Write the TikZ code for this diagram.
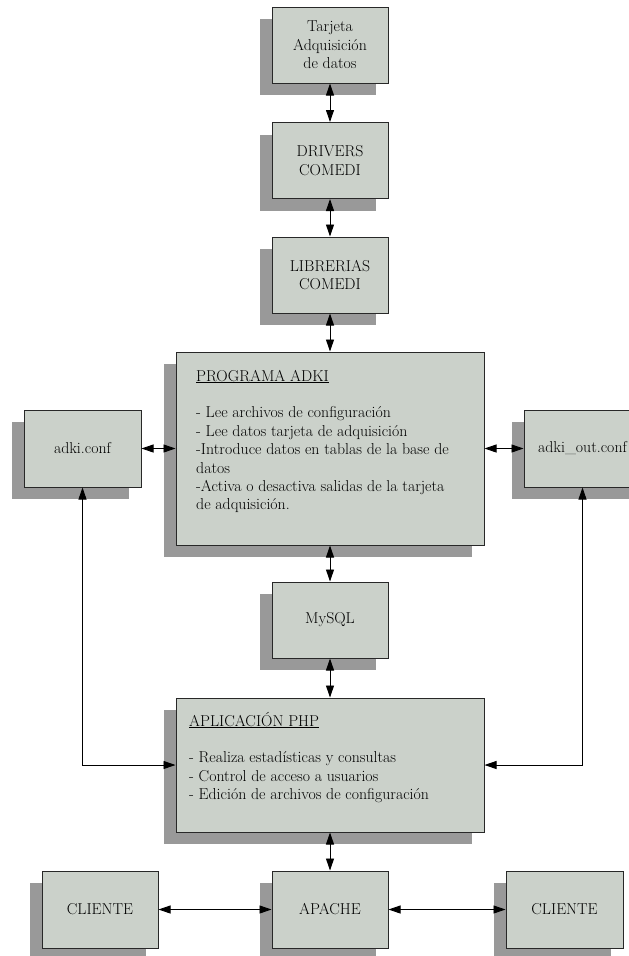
\documentclass[tikz,border=0pt]{standalone}
\usetikzlibrary{arrows.meta,calc,shadows}
\definecolor{boxfill}{RGB}{203,209,202}
\definecolor{shadowgray}{RGB}{153,153,153}
\definecolor{boxline}{RGB}{40,40,40}
\newcommand{\boxfont}{\fontsize{15.8}{18.4}\selectfont}
\begin{document}
\begin{tikzpicture}[x=1pt,y=-1pt,
  sbox/.style={draw=boxline, fill=boxfill, line width=1pt, align=center, inner sep=0pt,
    font=\boxfont,
    drop shadow={shadow xshift=-12pt, shadow yshift=-12pt, fill=shadowgray, opacity=1, draw=none}},
  smallbox/.style={sbox, minimum width=116pt, minimum height=76pt},
  bigtext/.style={anchor=base west, inner sep=0pt, font=\boxfont},
  conn/.style={line width=0.9pt, {Triangle[length=12pt,width=8pt]}-{Triangle[length=12pt,width=8pt]}}
  ]
\useasboundingbox (0,0) rectangle (629,956);
\clip (0,0) rectangle (629,956);
\fill[white] (0,0) rectangle (629,956);

\node[smallbox] (tarjeta) at (330,45) {Tarjeta\\Adquisición\\de datos};
\node[smallbox] (drivers) at (330,160.5) {DRIVERS\\COMEDI};
\node[smallbox] (librerias) at (330,275) {LIBRERIAS\\COMEDI};
\node[sbox, minimum width=308pt, minimum height=193pt] (prog) at (330,448.5) {};
\node[bigtext] (progtxt) at (196,381) {\parbox[t]{285pt}{\boxfont\raggedright
  \underline{PROGRAMA ADKI}\\
  \mbox{}\\
  - Lee archivos de configuración\\
  - Lee datos tarjeta de adquisición\\
  -Introduce datos en tablas de la base de\\
  datos\\
  -Activa o desactiva salidas de la tarjeta\\
  de adquisición.}};
\node[sbox, minimum width=117pt, minimum height=77pt] (adkiconf) at (82.5,448.5) {adki.conf};
\node[sbox, minimum width=117pt, minimum height=77pt] (adkiout) at (582.5,448.5) {adki\_out.conf};
\node[smallbox] (mysql) at (330,620) {MySQL};
\node[sbox, minimum width=308pt, minimum height=134pt] (php) at (330,765) {};
\node[bigtext] (phptxt) at (189,726) {\parbox[t]{285pt}{\boxfont\raggedright
  \underline{APLICACIÓN PHP}\\
  \mbox{}\\
  - Realiza estadísticas y consultas\\
  - Control de acceso a usuarios\\
  - Edición de archivos de configuración}};
\node[sbox, minimum width=116pt, minimum height=77pt] (clientl) at (100,909.5) {CLIENTE};
\node[sbox, minimum width=116pt, minimum height=77pt] (apache) at (330,909.5) {APACHE};
\node[sbox, minimum width=117pt, minimum height=77pt] (clientr) at (564.5,909.5) {CLIENTE};

\draw[conn] (tarjeta) -- (drivers);
\draw[conn] (drivers) -- (librerias);
\draw[conn] (librerias) -- (prog);
\draw[conn] (prog) -- (mysql);
\draw[conn] (mysql) -- (php);
\draw[conn] (php) -- (apache);
\draw[conn] (adkiconf.east) -- (adkiconf.east -| prog.west);
\draw[conn] (adkiout.west) -- (adkiout.west -| prog.east);
\draw[conn] (adkiconf.south) |- (php.west);
\draw[conn] (adkiout.south) |- (php.east);
\draw[conn] (clientl) -- (apache);
\draw[conn] (apache) -- (clientr);
\end{tikzpicture}
\end{document}
